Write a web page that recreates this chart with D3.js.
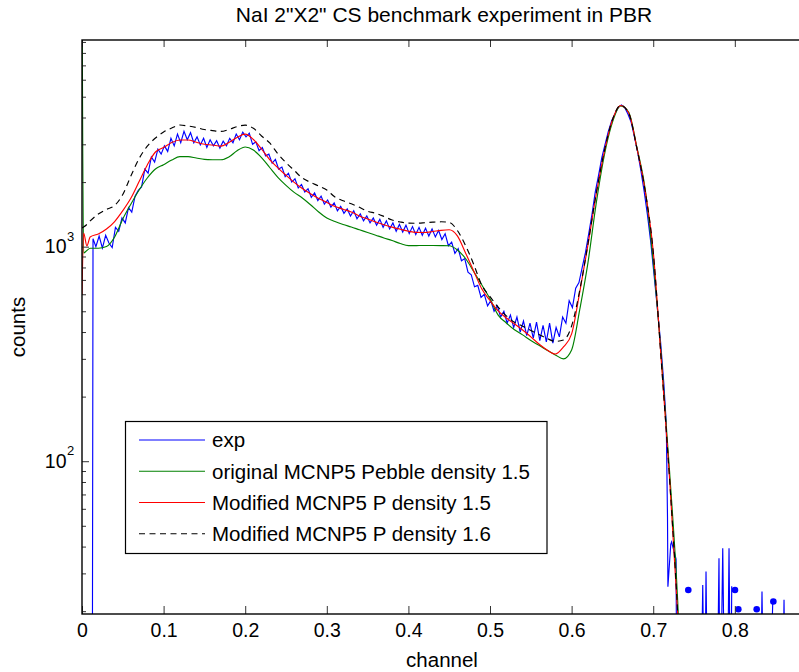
<!DOCTYPE html>
<html><head><meta charset="utf-8">
<script src="https://cdn.jsdelivr.net/npm/d3@7"></script>
<style>
body{margin:0;background:#fff}
text{font-family:Arial,"Liberation Sans",Helvetica,sans-serif;fill:#000}
</style>
</head><body><svg id="c" width="799" height="672"></svg>
<script>
// ---------------- data ----------------
const titleText = 'NaI 2"X2" CS benchmark experiment in PBR';
const xLabel = "channel";
const yLabel = "counts";
const xTicks = [0, 0.1, 0.2, 0.3, 0.4, 0.5, 0.6, 0.7, 0.8];
const yMajorTicks = [100, 1000];
const yMajorExp = ["2", "3"];
const yMinorTicks = [20,30,40,50,60,70,80,90,200,300,400,500,600,700,800,900,2000,3000,4000,5000,6000,7000,8000,9000];
const legendLabels = ["exp", "original MCNP5 Pebble density 1.5", "Modified MCNP5 P density 1.5", "Modified MCNP5 P density 1.6"];

const modelChannels = [0,0.002,0.006,0.01,0.02,0.03,0.04,0.05,0.06,0.07,0.08,0.09,0.10,0.11,0.12,0.13,0.14,0.15,0.16,0.17,0.18,0.19,0.20,0.21,0.22,0.23,0.24,0.25,0.26,0.27,0.28,0.29,0.30,0.31,0.32,0.33,0.34,0.35,0.36,0.37,0.38,0.39,0.40,0.41,0.42,0.43,0.44,0.45,0.46,0.47,0.48,0.49,0.50,0.51,0.52,0.53,0.54,0.55,0.56,0.57,0.58,0.59,0.60,0.61,0.62,0.63,0.64,0.65,0.66,0.67,0.68,0.69,0.70,0.71,0.72,0.73,0.735];

const originalP15 = [20000,935,960,983,983,1002,1110,1346,1581,1837,2090,2302,2411,2535,2627,2627,2590,2552,2543,2541,2618,2798,2915,2822,2601,2339,2106,1932,1791,1686,1569,1451,1360,1310,1269,1235,1199,1165,1131,1098,1068,1035,1011,1012,1013,1013,1012,1010,965,881,766,663,571,480,441,410,388,365,347,329,313,300,330,510,840,1580,2660,3800,4530,4230,2905,1870,850,305,90,22.3,8];

const modifiedP15 = [596,1158,1008,1110,1146,1209,1310,1472,1686,2013,2403,2762,2900,3059,3143,3143,3066,3001,2978,2940,3059,3228,3344,3159,2853,2546,2331,2151,1994,1867,1764,1677,1607,1539,1494,1451,1390,1346,1303,1266,1233,1206,1180,1165,1164,1177,1192,1199,1122,935,770,635,561,502,465,436,409,380,352,330,316,341,392,615,1018,1741,2762,3894,4550,4198,2884,1837,951,290,83.6,19.4,8];

const modifiedP16 = [1222,1235,1270,1318,1420,1492,1556,1751,2140,2576,2940,3210,3423,3573,3690,3651,3593,3516,3475,3445,3516,3628,3684,3562,3280,3043,2710,2463,2268,2090,1994,1918,1837,1704,1637,1585,1526,1462,1431,1383,1331,1303,1287,1286,1292,1301,1306,1297,1190,1013,828,660,585,522,476,444,426,407,390,373,362,367,427,628,1030,1760,2780,3900,4560,4190,2870,1830,945,288,83,19.6,8];

// measured spectrum: [channel, counts]  (null = no counts)
const expData = [
[0.0126,5],[0.0135,1090],[0.017,1000],[0.021,1120],[0.025,985],[0.029,1130],[0.033,1040],[0.037,990],[0.041,1230],[0.045,1180],[0.049,1360],[0.053,1290],[0.057,1520],[0.061,1450],[0.065,1720],[0.069,1830],[0.073,1900],[0.077,2300],[0.081,2200],[0.085,2620],[0.089,2480],[0.093,2850],[0.097,2700],
[0.101,2950],[0.105,2780],[0.109,3200],[0.113,2950],[0.117,3350],[0.121,3050],[0.125,3450],[0.129,3150],[0.133,3400],[0.137,3050],[0.141,3250],[0.145,2980],[0.149,3200],[0.153,2900],[0.157,3150],[0.161,2950],[0.165,3120],[0.169,2880],[0.173,3100],[0.177,2950],[0.181,3200],[0.185,3050],[0.189,3350],[0.193,3150],[0.197,3420],
[0.201,3250],[0.205,3380],[0.209,3000],[0.213,3080],[0.217,2800],[0.221,2900],[0.225,2650],[0.229,2700],[0.233,2450],[0.237,2550],[0.241,2300],[0.245,2350],[0.249,2120],[0.253,2200],[0.257,2000],[0.261,2070],[0.265,1880],[0.269,1950],[0.273,1800],[0.277,1860],[0.281,1700],[0.285,1780],[0.289,1640],[0.293,1720],[0.297,1580],
[0.301,1650],[0.305,1530],[0.309,1600],[0.313,1470],[0.317,1540],[0.321,1430],[0.325,1500],[0.329,1390],[0.333,1470],[0.337,1350],[0.341,1420],[0.345,1320],[0.349,1390],[0.353,1290],[0.357,1360],[0.361,1260],[0.365,1340],[0.369,1230],[0.373,1320],[0.377,1210],[0.381,1290],[0.385,1180],[0.389,1270],[0.393,1170],[0.397,1260],
[0.401,1150],[0.405,1240],[0.409,1140],[0.413,1230],[0.417,1130],[0.421,1220],[0.425,1120],[0.429,1210],[0.433,1110],[0.437,1190],[0.441,1080],[0.445,1150],[0.449,1010],[0.453,1050],[0.457,930],[0.461,980],[0.465,860],[0.469,880],[0.473,760],[0.477,740],[0.481,650],[0.485,660],[0.489,580],[0.493,600],[0.497,530],
[0.501,560],[0.505,500],[0.509,530],[0.513,470],[0.517,500],[0.521,440],[0.525,480],[0.529,420],[0.533,470],[0.537,400],[0.541,450],[0.545,385],[0.549,440],[0.553,375],[0.557,445],[0.561,365],[0.565,430],[0.569,360],[0.573,440],[0.577,355],[0.581,420],[0.585,380],[0.589,470],[0.593,440],[0.597,560],
[0.601,520],[0.605,640],[0.609,680],[0.613,800],[0.617,940],[0.621,1150],[0.625,1420],[0.629,1800],[0.633,2150],[0.637,2600],[0.641,3000],[0.645,3450],[0.649,3850],[0.653,4150],[0.657,4450],[0.661,4580],[0.665,4450],[0.669,4150],[0.673,3800],[0.677,3250],[0.681,2750],[0.685,2250],[0.689,1800],[0.693,1400],[0.697,1050],
[0.701,740],[0.705,520],[0.709,360],[0.713,230],[0.716,150],[0.7175,55],[0.718,26],[0.7215,41],[0.7225,42],[0.728,35],[0.729,5],[0.733,5],[0.737,5],[0.74,null],
[0.758,5],[0.7607,26.5],[0.763,5],[0.7647,30.6],[0.767,5],[0.778,5],[0.7806,35.3],[0.782,5],[0.7852,39.3],[0.788,5],[0.7905,5],[0.7929,39.3],[0.795,5],[0.7962,26.1],[0.798,null],
[0.831,5],[0.8333,24.7],[0.836,5],[0.842,5],[0.8465,22.2],[0.848,null],[0.858,5],[0.8603,22.6],[0.862,5],[0.864,null]
];
const expDots = [[0.743,25.1],[0.8002,25.1],[0.8043,20.4],[0.8268,20.4],[0.8472,22.2]];

// ---------------- chart ----------------
const svg = d3.select("#c");
const L = 82, R = 805, T = 40, B = 614;
const x = d3.scaleLinear().domain([0, 0.886]).range([L, R]);
const y = d3.scaleLog().domain([19.4, 9190]).range([B, T]);

svg.append("rect").attr("width", 799).attr("height", 672).attr("fill", "#fff");

svg.append("defs").append("clipPath").attr("id", "clip")
  .append("rect").attr("x", L).attr("y", T).attr("width", R - L).attr("height", B - T);

const plot = svg.append("g").attr("clip-path", "url(#clip)");

const model = (vals) => modelChannels.map((c, i) => [c, vals[i]]);
const line = d3.line().defined(d => d[1] != null).x(d => x(d[0])).y(d => y(d[1]));
const smooth = d3.line().x(d => x(d[0])).y(d => y(d[1])).curve(d3.curveMonotoneX);

plot.append("path").datum(expData).attr("d", line)
  .attr("fill", "none").attr("stroke", "#0000ff").attr("stroke-width", 1.15);
plot.selectAll("circle.dot").data(expDots).join("circle").attr("class", "dot")
  .attr("cx", d => x(d[0])).attr("cy", d => y(d[1])).attr("r", 3.3).attr("fill", "#0000ff");
plot.append("path").datum(model(originalP15)).attr("d", smooth)
  .attr("fill", "none").attr("stroke", "#008000").attr("stroke-width", 1.15);
plot.append("path").datum(model(modifiedP15)).attr("d", smooth)
  .attr("fill", "none").attr("stroke", "#ff0000").attr("stroke-width", 1.15);
plot.append("path").datum(model(modifiedP16)).attr("d", smooth)
  .attr("fill", "none").attr("stroke", "#000").attr("stroke-width", 1.15)
  .attr("stroke-dasharray", "6,4.5");

// axes
const fs = 19.5;
const xAxisB = svg.append("g").attr("transform", `translate(0,${B})`)
  .call(d3.axisBottom(x).tickValues(xTicks).tickSizeInner(-8).tickSizeOuter(0).tickPadding(9)
    .tickFormat(d => d === 0 ? "0" : d3.format(".1f")(d)));
xAxisB.select(".domain").remove();
xAxisB.selectAll("text").attr("font-size", fs).attr("font-family", "Arial, 'Liberation Sans', sans-serif");
xAxisB.selectAll("line").attr("stroke", "#333");

const xAxisT = svg.append("g").attr("transform", `translate(0,${T})`)
  .call(d3.axisTop(x).tickValues(xTicks).tickSizeInner(-7).tickSizeOuter(0).tickFormat(""));
xAxisT.select(".domain").remove();
xAxisT.selectAll("line").attr("stroke", "#333");

const yAxisMinor = svg.append("g").attr("transform", `translate(${L},0)`)
  .call(d3.axisLeft(y).tickValues(yMinorTicks).tickSizeInner(-4).tickSizeOuter(0).tickFormat(""));
yAxisMinor.select(".domain").remove();
yAxisMinor.selectAll("line").attr("stroke", "#333");

const yAxisMajor = svg.append("g").attr("transform", `translate(${L},0)`)
  .call(d3.axisLeft(y).tickValues(yMajorTicks).tickSizeInner(-7).tickSizeOuter(0).tickFormat(""));
yAxisMajor.select(".domain").remove();
yAxisMajor.selectAll("line").attr("stroke", "#333");

yMajorTicks.forEach((v, i) => {
  svg.append("text").attr("x", 66.5).attr("y", y(v) + 6.8)
    .attr("text-anchor", "end").attr("font-size", fs).text("10");
  svg.append("text").attr("x", 67).attr("y", y(v) - 6)
    .attr("font-size", 13).text(yMajorExp[i]);
});

// frame
svg.append("rect").attr("x", L).attr("y", T).attr("width", R - L).attr("height", B - T)
  .attr("fill", "none").attr("stroke", "#000").attr("stroke-width", 1.4);

// labels
svg.append("text").attr("x", 444).attr("y", 22).attr("text-anchor", "middle")
  .attr("font-size", 21).text(titleText);
svg.append("text").attr("x", 442).attr("y", 666.5).attr("text-anchor", "middle")
  .attr("font-size", 20.5).text(xLabel);
svg.append("text").attr("transform", "translate(25,327) rotate(-90)").attr("text-anchor", "middle")
  .attr("font-size", 20.5).text(yLabel);

// legend
const lg = svg.append("g");
lg.append("rect").attr("x", 125.5).attr("y", 421.5).attr("width", 421.5).attr("height", 132)
  .attr("fill", "#fff").attr("stroke", "#000").attr("stroke-width", 1.2);
const legColors = ["#0000ff", "#008000", "#ff0000", "#000"];
const legDash = [null, null, null, "6,4.5"];
const legY = [440, 471.3, 502.5, 533.7];
legendLabels.forEach((lab, i) => {
  lg.append("line").attr("x1", 139).attr("x2", 205).attr("y1", legY[i]).attr("y2", legY[i])
    .attr("stroke", legColors[i]).attr("stroke-width", 1.1).attr("stroke-dasharray", legDash[i]);
  lg.append("text").attr("x", 212).attr("y", legY[i] + 7.3).attr("font-size", 20.5).text(lab);
});
</script>
</body></html>
